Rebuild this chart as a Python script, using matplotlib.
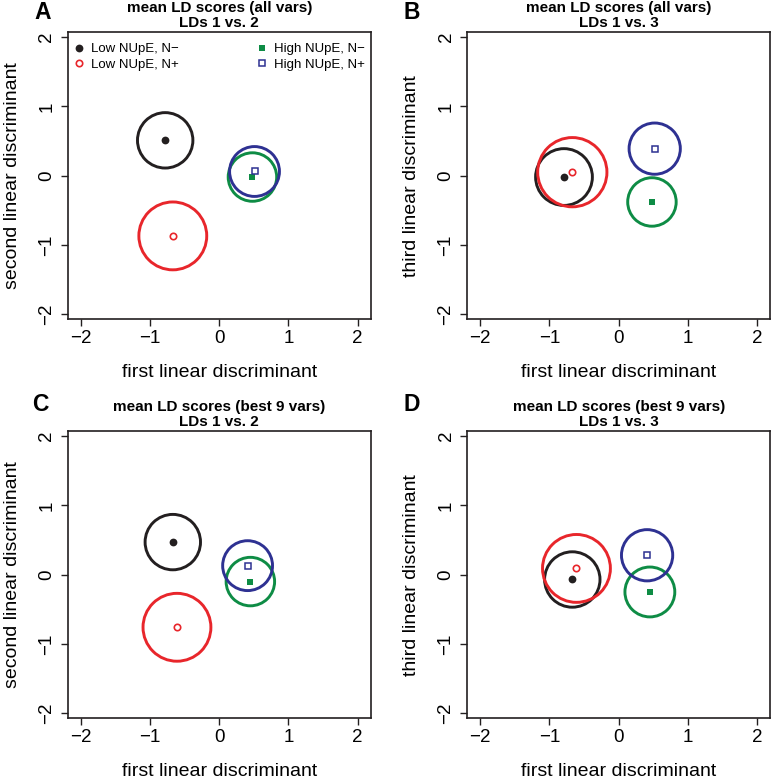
import matplotlib
matplotlib.use('Agg')
import matplotlib.pyplot as plt
from matplotlib.patches import Circle

plt.rcParams['font.family'] = ['Liberation Sans', 'DejaVu Sans']

# ---------------- data ----------------
groups = ['Low NUpE, N\u2212', 'Low NUpE, N+', 'High NUpE, N\u2212', 'High NUpE, N+']
colors = ['#231F20', '#E8262B', '#0E8C45', '#2E3192']

# Panel A: all vars, LD1 vs LD2
a_x = [-0.78, -0.67, 0.48, 0.51]
a_y = [0.51, -0.87, -0.02, 0.06]
a_r = [0.40, 0.49, 0.35, 0.36]
# Panel B: all vars, LD1 vs LD3
b_x = [-0.79, -0.67, 0.48, 0.52]
b_y = [-0.02, 0.05, -0.38, 0.39]
b_r = [0.41, 0.50, 0.35, 0.37]
# Panel C: best 9 vars, LD1 vs LD2
c_x = [-0.67, -0.61, 0.45, 0.41]
c_y = [0.47, -0.76, -0.10, 0.13]
c_r = [0.40, 0.49, 0.35, 0.36]
# Panel D: best 9 vars, LD1 vs LD3
d_x = [-0.67, -0.61, 0.45, 0.41]
d_y = [-0.07, 0.09, -0.25, 0.28]
d_r = [0.40, 0.49, 0.36, 0.37]

letters = ['A', 'B', 'C', 'D']
titles = ['mean LD scores (all vars)\nLDs 1 vs. 2',
          'mean LD scores (all vars)\nLDs 1 vs. 3',
          'mean LD scores (best 9 vars)\nLDs 1 vs. 2',
          'mean LD scores (best 9 vars)\nLDs 1 vs. 3']
xlabels = ['first linear discriminant'] * 4
ylabels = ['second linear discriminant', 'third linear discriminant',
           'second linear discriminant', 'third linear discriminant']
ticks = [-2, -1, 0, 1, 2]
tick_labels = ['\u22122', '\u22121', '0', '1', '2']

panels = [(a_x, a_y, a_r), (b_x, b_y, b_r), (c_x, c_y, c_r), (d_x, d_y, d_r)]

# ---------------- layout (pixels) ----------------
W, H = 774, 780
fig = plt.figure(figsize=(W / 100, H / 100), dpi=100)
boxes = [(67.7, 32, 371, 319.3), (467, 32, 770.3, 319.3),
         (67.7, 431, 371, 718.3), (467, 431, 770.3, 718.3)]
centers_x = [219.2, 618.7, 219.2, 618.7]   # pixel of x = 0
letter_pos = [(43, 12.5), (412, 12.5), (40, 404.5), (412, 404.5)]
unit = 69.25  # pixels per data unit

fc = ['#231F20', 'white', '#0E8C45', 'white']
mk = ['o', 'o', 's', 's']
ms = [5.6, 4.6, 3.9, 4.3]
mew = [0.0, 1.2, 0.0, 1.1]
frame = '#231F20'

for i, (l, t, r, b) in enumerate(boxes):
    ax = fig.add_axes([l / W, 1 - b / H, (r - l) / W, (b - t) / H])
    x0 = centers_x[i]
    ax.set_xlim((l - x0) / unit, (r - x0) / unit)
    yc = (t + b) / 2
    ax.set_ylim(-(b - yc) / unit, (yc - t) / unit)
    xs, ys, rs = panels[i]
    for j in range(4):
        ax.add_patch(Circle((xs[j], ys[j]), rs[j], fill=False,
                            edgecolor=colors[j], linewidth=2.1, zorder=2))
        ax.plot([xs[j]], [ys[j]], linestyle='none', marker=mk[j], markersize=ms[j],
                markerfacecolor=fc[j], markeredgecolor=colors[j],
                markeredgewidth=mew[j], zorder=3, label=groups[j])
    ax.set_xticks(ticks)
    ax.set_xticklabels(tick_labels, fontsize=13.5)
    ax.set_yticks(ticks)
    ax.set_yticklabels(tick_labels, fontsize=13.5, rotation=90, va='center')
    ax.tick_params(axis='both', direction='out', length=5, width=1.0, color=frame)
    ax.tick_params(axis='x', pad=2.5)
    ax.tick_params(axis='y', pad=4)
    for s in ax.spines.values():
        s.set_linewidth(1.2)
        s.set_color(frame)
    hgt = b - t
    wid = r - l
    ax.text(0.5, -53 / hgt, xlabels[i], transform=ax.transAxes, ha='center',
            va='center', fontsize=14)
    ax.text(-55.5 / wid, 0.5, ylabels[i], transform=ax.transAxes, ha='center',
            va='center', rotation=90, fontsize=14)
    ax.text(0.5, 1 + 16.5 / hgt, titles[i], transform=ax.transAxes, ha='center',
            va='center', fontsize=11, fontweight='bold', linespacing=1.05)
    lx, ly = letter_pos[i]
    ax.text((lx - l) / wid, 1 + (t - ly) / hgt, letters[i], transform=ax.transAxes,
            ha='center', va='center', fontsize=16.5, fontweight='bold')
    if i == 0:
        ax.legend(loc='upper left', bbox_to_anchor=(-3 / wid, 1 - 2 / hgt), ncol=2,
                  frameon=False, fontsize=9.5, handlelength=0.8, handletextpad=0.5,
                  columnspacing=5.9, borderaxespad=0.3, labelspacing=0.25,
                  borderpad=0.4, markerscale=1.0)

fig.savefig('out.png', dpi=100)
